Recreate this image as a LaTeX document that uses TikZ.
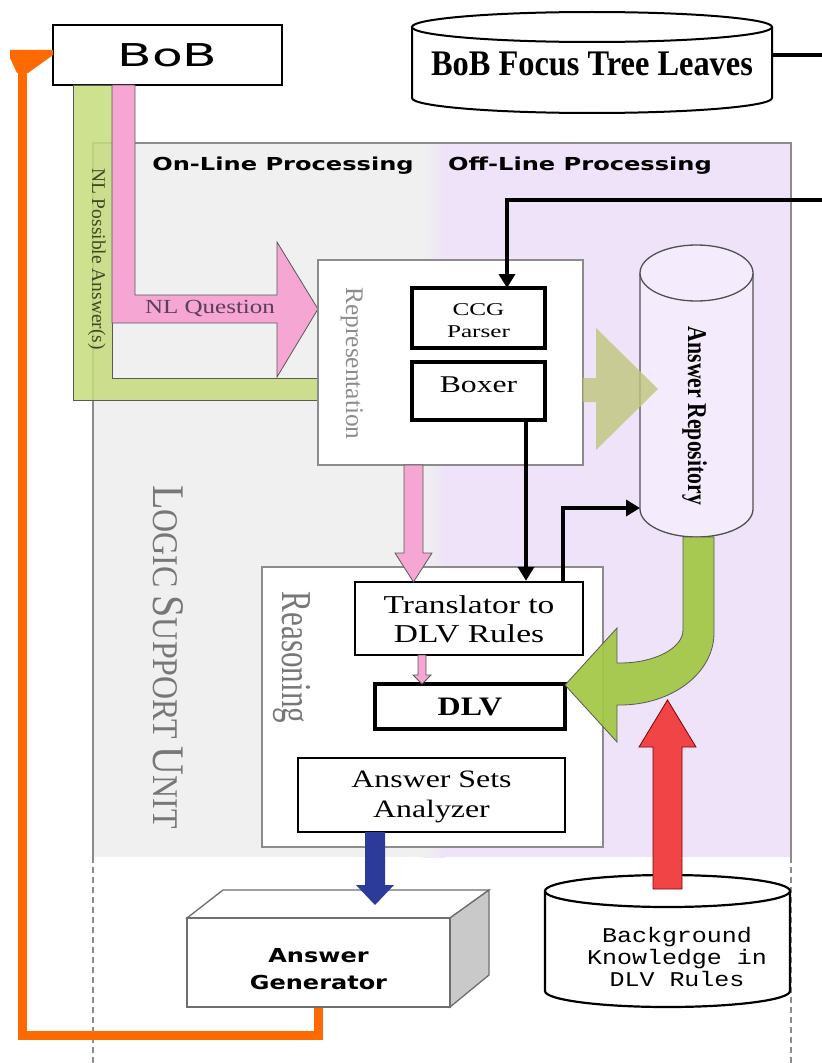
\documentclass[tikz,border=0pt]{standalone}
\usepackage{fontspec}
\usepackage{graphicx}
\setmainfont{Liberation Serif}
\newfontfamily\headsans{DejaVu Sans}
\newfontfamily\codemono{Liberation Mono}
\usetikzlibrary{arrows.meta}

% one unit = one pixel of the layout grid
\newdimen\upx \upx=0.75pt
\newcommand\hstretch[2]{\scalebox{#1}[1]{#2}}
\newcommand\vstretch[2]{\scalebox{1}[#1]{#2}}
\newcommand\lsc[2]{{\fontsize{30}{30}\selectfont #1}{\fontsize{24}{24}\selectfont #2}}

% upright drum: style, left x, right x, top centre y, bottom centre y, ellipse half height
\newcommand\drum[6]{%
  \path[#1] (#2,#4) -- (#2,#5)
    .. controls (#2,{#5+0.5523*#6}) and ({(#2+#3)/2-0.5523*(#3-#2)/2},{#5+#6}) .. ({(#2+#3)/2},{#5+#6})
    .. controls ({(#2+#3)/2+0.5523*(#3-#2)/2},{#5+#6}) and (#3,{#5+0.5523*#6}) .. (#3,#5)
    -- (#3,#4);
  \path[#1] ({(#2+#3)/2},#4) ellipse [x radius={(#3-#2)/2*0.75pt}, y radius={#6*0.75pt}];
}

\definecolor{panelgray}{HTML}{F0F0F0}
\definecolor{panellav}{HTML}{EEE3F8}
\definecolor{framegray}{HTML}{8C8C8C}
\definecolor{qpink}{HTML}{F5A6D2}
\definecolor{apgreen}{HTML}{C6DC7C}
\definecolor{olivearrow}{HTML}{C0C57C}
\definecolor{repogreen}{HTML}{A2C744}
\definecolor{bkred}{HTML}{F04446}
\definecolor{navy}{HTML}{2C3A9A}
\definecolor{fbkorange}{HTML}{FF6A00}
\definecolor{repofill}{HTML}{F4ECFC}
\definecolor{repoline}{HTML}{505050}
\definecolor{sidegray}{HTML}{C9C9C9}
\definecolor{gengray}{HTML}{6E6E6E}
\definecolor{qtext}{HTML}{5A3F58}
\definecolor{atext}{HTML}{3F4A25}
\definecolor{labelgray}{HTML}{777777}
\definecolor{repgray}{HTML}{8C8C8C}

\begin{document}
\begin{tikzpicture}[x=0.75pt, y=-0.75pt,
  frameline/.style={draw=framegray, line width=1.3\upx},
  areabox/.style={draw=framegray, line width=1.5\upx, fill=white, inner sep=0pt},
  procbox/.style={draw=black, line width=2.6\upx, fill=white, inner sep=0pt},
  thickbox/.style={procbox, line width=3.2\upx},
  blockarrow/.style={draw=black!65, line width=0.8\upx},
  linkarrow/.style={draw=black, line width=4\upx, -{Triangle[length=10.5pt, width=12pt]}},
  sidelabel/.style={rotate=-90, anchor=base, inner sep=0pt},
  plain/.style={anchor=base, inner sep=0pt},
]
\useasboundingbox (0,0) rectangle (821,1063);
\fill[white] (0,0) rectangle (821,1063);

% logic support unit: on-line and off-line halves
\fill[panelgray] (93,143) rectangle (424,857);
\shade[left color=panelgray, right color=panellav] (423,143) rectangle (445,857);
\fill[panellav] (444,143) rectangle (791,857);
\draw[frameline] (93,857) -- (93,143) -- (791,143) -- (791,857);
\draw[frameline, dash pattern=on 4.5pt off 3pt] (93,857) -- (93,1063) (791,857) -- (791,1063);

% BoB
\node[procbox, minimum width=229\upx, minimum height=60\upx, font={\headsans\fontsize{23.6}{24}\selectfont}] (bob) at (167.5,55) {\hstretch{1.6}{BoB}};

% answers going back and question coming in
\draw[blockarrow, fill=apgreen, fill opacity=0.85] (73,85) -- (112,85) -- (112,378) -- (318,378) -- (318,400) -- (73,400) -- cycle;
\draw[blockarrow, fill=qpink] (112,85) -- (135,85) -- (135,295) -- (277,295) -- (277,242) -- (318,309) -- (277,377) -- (277,323) -- (112,323) -- cycle;

% focus tree leaves store
\drum{draw=black, line width=2\upx, fill=white}{412}{772}{27}{98}{15}
\node[plain, font={\bfseries\fontsize{27}{27}\selectfont}] (leaves) at (592,75) {\hstretch{0.9}{BoB Focus Tree Leaves}};
\coordinate (leaves-e) at (772,55);

% representation
\node[areabox, minimum width=265\upx, minimum height=205\upx] (rep) at (450.5,362.5) {};
\node[sidelabel, text=repgray, font={\fontsize{19}{19}\selectfont}] (replabel) at (346,363.5) {Representation};
\node[thickbox, minimum width=133\upx, minimum height=60\upx, font={\fontsize{13.5}{16.5}\selectfont}] (ccg) at (478.5,318)
  {\raisebox{-3.6\upx}[\height][\depth]{\hstretch{1.4}{\begin{tabular}{@{}c@{}}CCG\\Parser\end{tabular}}}};
\node[thickbox, minimum width=133\upx, minimum height=58\upx, font={\fontsize{18}{18}\selectfont}] (boxer) at (478.5,391)
  {\raisebox{6\upx}[\height][\depth]{\hstretch{1.32}{Boxer}}};

% answer repository
\drum{draw=repoline, line width=1.3\upx, fill=repofill}{640}{753}{273}{509}{28}
\node[sidelabel, font={\bfseries\fontsize{16.3}{16.3}\selectfont}] (repo) at (688,416) {\vstretch{1.25}{Answer Repository}};
\coordinate (repo-w) at (640,508);

% representation feeds the repository
\fill[olivearrow, fill opacity=0.8] (583,378) -- (596,378) -- (596,328) -- (658,389) -- (596,450) -- (596,402) -- (583,402) -- cycle;

% reasoning
\node[areabox, minimum width=341\upx, minimum height=280\upx] (reas) at (432.5,707) {};
\node[sidelabel, text=labelgray, font={\fontsize{23.3}{23.3}\selectfont}] (reaslabel) at (282,657.5) {\vstretch{1.37}{Reasoning}};
\node[procbox, line width=2.4\upx, minimum width=228\upx, minimum height=73\upx, font={\fontsize{19.3}{21.75}\selectfont}] (trans) at (469,618.5)
  {\raisebox{-3.2\upx}[\height][\depth]{\hstretch{1.3}{\begin{tabular}{@{}c@{}}Translator to\\DLV Rules\end{tabular}}}};
\node[thickbox, minimum width=190\upx, minimum height=45\upx, font={\bfseries\fontsize{20}{20}\selectfont}] (dlv) at (470,706.5) {\hstretch{1.2}{DLV}};
\node[procbox, minimum width=267\upx, minimum height=74\upx, font={\fontsize{18.8}{22.5}\selectfont}] (asa) at (431.5,795)
  {\raisebox{-1\upx}[\height][\depth]{\hstretch{1.27}{\begin{tabular}{@{}c@{}}Answer Sets\\Analyzer\end{tabular}}}};

% question flow inside the unit
\draw[blockarrow, fill=qpink] (404,465) -- (423,465) -- (423,553) -- (432,553) -- (413.5,582) -- (395,553) -- (404,553) -- cycle;
\draw[blockarrow, fill=qpink] (418,655) -- (426,655) -- (426,675) -- (431,675) -- (422,684) -- (413,675) -- (418,675) -- cycle;

% data links
\coordinate (ccg-in) at (507,288);
\draw[linkarrow] (leaves-e) -| (830,200) -| (ccg-in);
\draw[linkarrow] ([xshift=47.5\upx]boxer.south) -- ([xshift=47.5\upx]boxer.south |- trans.north);
\draw[linkarrow] ([xshift=94\upx]trans.north) |- (repo-w);

% repository content to DLV
\draw[blockarrow, fill=repogreen, fill opacity=0.92] (683,537) -- (683,630) .. controls (683,648) and (655,663) .. (620,663)
  -- (617,663) -- (617,628) -- (565,685) -- (617,742) -- (617,705) -- (620,705)
  .. controls (672,705) and (714,673) .. (714,633) -- (714,537) -- cycle;

% background knowledge
\drum{draw=black, line width=2.2\upx, fill=white}{545}{790}{891}{991}{16}
\node[inner sep=0pt, font={\codemono\fontsize{15.75}{16.5}\selectfont}] (bk) at (677,959.6)
  {\hstretch{1.19}{\begin{tabular}{@{}c@{}}Background\\Knowledge in\\DLV Rules\end{tabular}}};
\draw[draw=red!50!black, line width=0.8\upx, fill=bkred] (653,889) -- (653,747) -- (639,747) -- (667.5,700) -- (696,747) -- (682,747) -- (682,889) -- cycle;

% answer generator block
\filldraw[fill=white, draw=gengray, line width=1.3\upx] (187,918) -- (223,890) -- (489,890) -- (450,918) -- cycle;
\filldraw[fill=sidegray, draw=gengray, line width=1.3\upx] (450,918) -- (489,890) -- (489,975) -- (450,1007) -- cycle;
\node[draw=gengray, line width=1.3\upx, fill=white, minimum width=263\upx, minimum height=89\upx, inner sep=0pt,
  font={\headsans\bfseries\fontsize{14.4}{20.25}\selectfont}] (gen) at (318.5,962.5)
  {\raisebox{-7.6\upx}[\height][\depth]{\hstretch{1.25}{\begin{tabular}{@{}c@{}}Answer\\Generator\end{tabular}}}};
\fill[navy] (365,832) -- (385,832) -- (385,885) -- (394,885) -- (375,905) -- (356,885) -- (365,885) -- cycle;

% generated answer back to BoB
\draw[fbkorange, line width=9\upx] (gen.south) -- (318.5,1035) -| (22,58);
\fill[fbkorange] (10,50) -- (53,50) -- (53,55) -- (28,73) -- (17,73) -- (10,58) -- cycle;

% labels
\node[plain, font={\headsans\bfseries\fontsize{13.4}{13.4}\selectfont}] (online) at (283,170) {\hstretch{1.35}{On-Line Processing}};
\node[plain, font={\headsans\bfseries\fontsize{13.4}{13.4}\selectfont}] (offline) at (580,170) {\hstretch{1.35}{Off-Line Processing}};
\node[plain, text=qtext, font={\fontsize{15}{15}\selectfont}] (nlq) at (210,313) {\hstretch{1.25}{NL Question}};
\node[sidelabel, text=atext, font={\fontsize{14.6}{14.6}\selectfont}] (nla) at (92,259) {NL Possible Answer(s)};
\node[sidelabel, text=labelgray] (lsu) at (153,657) {\vstretch{1.13}{\lsc{L}{OGIC~}\lsc{S}{UPPORT~}\lsc{U}{NIT}}};
\end{tikzpicture}
\end{document}
